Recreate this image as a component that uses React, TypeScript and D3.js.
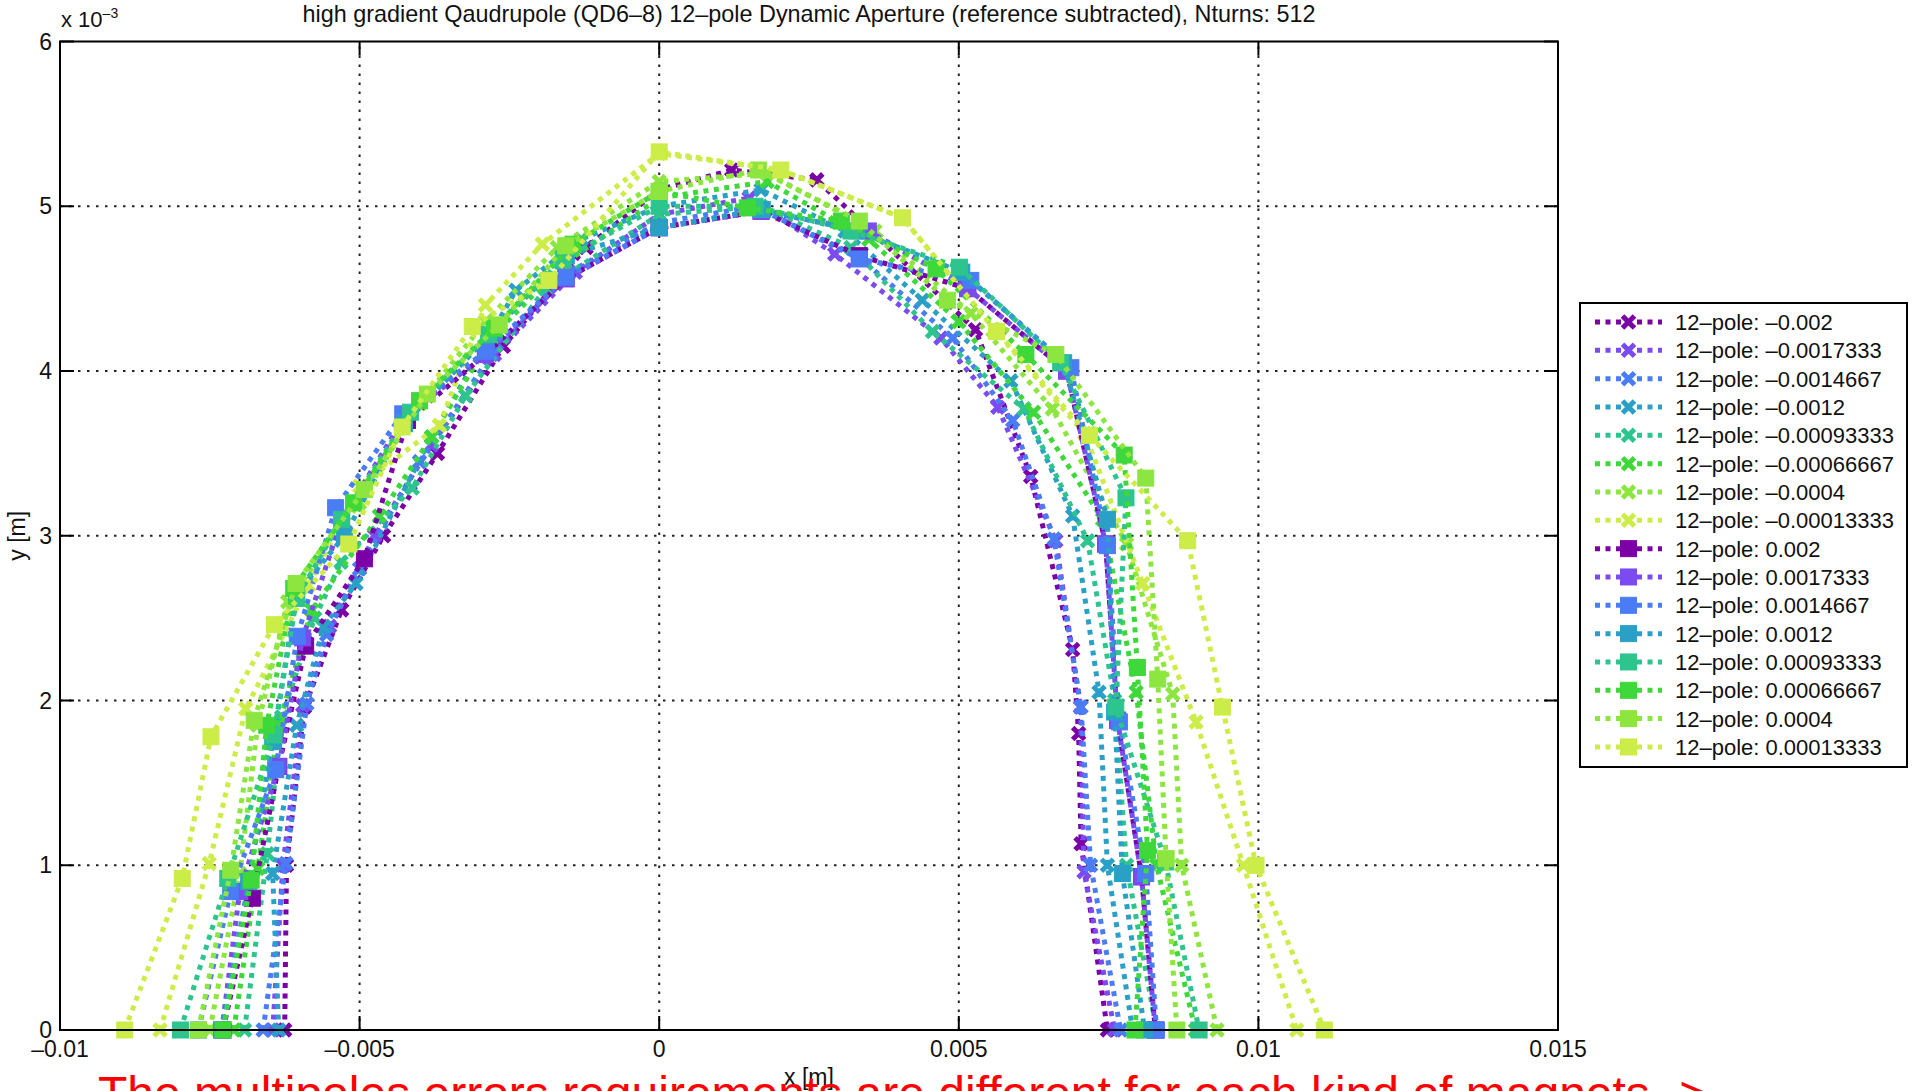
import React from "react";
import * as d3 from "d3";

// axis ticks (data units: 1e-3 m)
const xTicks = [-10, -5, 0, 5, 10, 15];
const xTickLabels = ["–0.01", "–0.005", "0", "0.005", "0.01", "0.015"];
const yTicks = [0, 1, 2, 3, 4, 5, 6];
const yTickLabels = ["0", "1", "2", "3", "4", "5", "6"];

const palette = ["#7b00a6", "#7b4bf0", "#4a7cf6", "#2aa0c6", "#2dc48e", "#3ed83a", "#8de640", "#ccec48"];

// dynamic aperture points [x, y] in 1e-3 m, 17 angles per scan
const neg2000 = [[-6.25, 0], [-6.22, 1.0], [-5.92, 1.96], [-5.3, 2.55], [-4.6, 3.0], [-3.7, 3.5], [-2.6, 4.15], [-1.22, 4.75], [0, 5.1], [1.21, 5.22], [2.63, 5.16], [5.28, 4.25], [6.2, 3.36], [6.9, 2.31], [7.0, 1.8], [7.04, 1.13], [7.48, 0]];
const neg1733 = [[-6.45, 0], [-6.28, 1.0], [-5.95, 1.97], [-5.5, 2.45], [-4.75, 3.0], [-3.8, 3.55], [-2.75, 4.1], [-1.4, 4.6], [0, 4.95], [1.5, 5.05], [2.93, 4.71], [4.7, 4.2], [5.65, 3.78], [6.62, 2.97], [7.03, 1.96], [7.09, 0.96], [7.6, 0]];
const neg1467 = [[-6.61, 0], [-6.23, 1.01], [-5.88, 1.98], [-5.55, 2.4], [-5.0, 2.8], [-4.0, 3.45], [-2.8, 4.1], [-1.5, 4.6], [0, 4.9], [1.6, 5.0], [3.34, 4.69], [4.9, 4.2], [5.9, 3.7], [6.59, 2.98], [7.04, 1.96], [7.2, 1.0], [7.7, 0]];
const neg1200 = [[-6.35, 0], [-6.45, 0.95], [-6.05, 1.85], [-5.6, 2.45], [-5.06, 2.71], [-3.8, 3.6], [-2.39, 4.49], [-1.3, 4.8], [0, 5.0], [1.7, 5.1], [3.1, 4.85], [4.39, 4.43], [5.87, 3.94], [6.9, 3.12], [7.34, 2.05], [7.48, 1.0], [7.9, 0]];
const neg0933 = [[-6.92, 0], [-6.54, 1.07], [-6.3, 1.9], [-5.75, 2.5], [-5.31, 2.84], [-4.12, 3.29], [-3.23, 3.85], [-1.9, 4.5], [0, 4.95], [1.7, 5.0], [3.2, 4.75], [4.56, 4.24], [6.09, 3.77], [7.15, 2.97], [7.6, 2.0], [7.8, 1.0], [8.3, 0]];
const neg0667 = [[-7.1, 0], [-6.7, 0.98], [-6.35, 1.85], [-5.8, 2.55], [-4.67, 3.12], [-3.8, 3.6], [-2.8, 4.2], [-1.6, 4.65], [0, 5.05], [1.8, 5.15], [3.5, 4.8], [5.0, 4.3], [6.25, 3.75], [7.4, 3.1], [7.96, 2.05], [8.3, 1.0], [8.95, 0]];
const neg0400 = [[-7.5, 0], [-7.0, 0.95], [-6.7, 1.85], [-6.2, 2.6], [-5.0, 3.2], [-4.0, 3.8], [-2.9, 4.3], [-1.7, 4.75], [0, 5.15], [1.8, 5.2], [3.6, 4.85], [5.2, 4.35], [6.56, 3.77], [7.8, 2.95], [8.57, 2.04], [8.72, 1.0], [9.31, 0]];
const neg0133 = [[-8.33, 0], [-7.51, 1.01], [-6.9, 1.95], [-5.85, 2.7], [-5.0, 3.3], [-3.67, 3.67], [-2.9, 4.4], [-1.95, 4.77], [0, 5.32], [2.03, 5.22], [4.06, 4.93], [5.6, 4.25], [7.1, 3.62], [8.07, 2.71], [8.96, 1.87], [9.75, 1.0], [10.64, 0]];
const pos2000 = [[-7.28, 0], [-6.79, 0.8], [-6.35, 1.6], [-5.9, 2.33], [-4.92, 2.86], [-4.2, 3.7], [-2.9, 4.1], [-1.56, 4.56], [0, 4.87], [1.7, 4.97], [3.34, 4.7], [5.15, 4.5], [6.8, 4.0], [7.45, 2.95], [7.65, 1.88], [8.05, 0.93], [8.28, 0]];
const pos1733 = [[-7.3, 0], [-7.0, 0.84], [-6.35, 1.6], [-5.95, 2.38], [-5.3, 3.1], [-4.25, 3.72], [-2.9, 4.1], [-1.55, 4.56], [0, 4.87], [1.7, 4.97], [3.49, 4.85], [5.15, 4.5], [6.8, 4.0], [7.45, 2.95], [7.65, 1.88], [8.05, 0.93], [8.28, 0]];
const pos1467 = [[-7.69, 0], [-7.15, 0.84], [-6.4, 1.58], [-6.04, 2.39], [-5.4, 3.17], [-4.28, 3.74], [-2.89, 4.12], [-1.56, 4.57], [0, 4.87], [1.7, 4.98], [3.34, 4.68], [5.2, 4.55], [6.87, 4.02], [7.48, 2.94], [7.68, 1.87], [8.12, 0.95], [8.3, 0]];
const pos1200 = [[-7.3, 0], [-6.85, 0.9], [-6.45, 1.75], [-6.05, 2.65], [-5.25, 3.0], [-4.25, 3.68], [-2.75, 4.25], [-1.55, 4.7], [0, 4.87], [1.72, 4.98], [3.3, 4.85], [5.05, 4.6], [6.75, 4.05], [7.48, 3.1], [7.6, 1.93], [7.73, 0.95], [8.1, 0]];
const pos0933 = [[-7.99, 0], [-7.2, 0.92], [-6.43, 1.79], [-6.05, 2.62], [-5.3, 3.1], [-4.15, 3.75], [-2.85, 4.22], [-1.6, 4.68], [0, 5.0], [1.6, 5.0], [3.2, 4.85], [5.01, 4.63], [6.7, 4.05], [7.79, 3.23], [7.62, 1.96], [8.45, 1.02], [9.01, 0]];
const pos0667 = [[-7.28, 0], [-6.81, 0.91], [-6.55, 1.85], [-6.1, 2.68], [-5.1, 3.2], [-4.0, 3.82], [-2.75, 4.26], [-1.44, 4.77], [0, 5.09], [1.47, 4.99], [3.04, 4.91], [4.62, 4.62], [6.12, 4.1], [7.76, 3.49], [7.98, 2.2], [8.15, 1.09], [7.94, 0]];
const pos0400 = [[-7.69, 0], [-7.15, 0.97], [-6.76, 1.88], [-6.06, 2.71], [-4.92, 3.28], [-3.87, 3.86], [-2.67, 4.28], [-1.56, 4.76], [0, 5.09], [1.66, 5.22], [3.34, 4.91], [4.81, 4.43], [6.62, 4.1], [8.12, 3.35], [8.32, 2.13], [8.46, 1.04], [8.64, 0]];
const pos0133 = [[-8.92, 0], [-7.96, 0.92], [-7.48, 1.78], [-6.42, 2.46], [-5.18, 2.95], [-4.29, 3.66], [-3.12, 4.27], [-1.84, 4.55], [0, 5.33], [2.03, 5.22], [4.06, 4.93], [5.63, 4.24], [7.18, 3.61], [8.82, 2.97], [9.4, 1.96], [9.96, 1.0], [11.1, 0]];

const labels = [
  "12–pole: –0.002", "12–pole: –0.0017333", "12–pole: –0.0014667", "12–pole: –0.0012",
  "12–pole: –0.00093333", "12–pole: –0.00066667", "12–pole: –0.0004", "12–pole: –0.00013333",
  "12–pole: 0.002", "12–pole: 0.0017333", "12–pole: 0.0014667", "12–pole: 0.0012",
  "12–pole: 0.00093333", "12–pole: 0.00066667", "12–pole: 0.0004", "12–pole: 0.00013333",
];
const scans = [neg2000, neg1733, neg1467, neg1200, neg0933, neg0667, neg0400, neg0133,
  pos2000, pos1733, pos1467, pos1200, pos0933, pos0667, pos0400, pos0133];

const series = scans.map((pts, i) => ({
  label: labels[i],
  pts,
  color: palette[i % 8],
  marker: i < 8 ? "x" : "square",
}));

const W = 1913, H = 1091;
const margin = { left: 60, right: 355, top: 41.5, bottom: 61 };
const font = "'Liberation Sans', Arial, Helvetica, sans-serif";

const Marker = ({ type, cx, cy, color }) => {
  if (type === "square") {
    const s = 16;
    return <rect x={cx - s / 2} y={cy - s / 2} width={s} height={s} fill={color} stroke={color} strokeWidth={1} />;
  }
  const r = 6;
  return (
    <path d={`M${cx - r},${cy - r}L${cx + r},${cy + r}M${cx - r},${cy + r}L${cx + r},${cy - r}`}
      stroke={color} strokeWidth={5} fill="none" />
  );
};

export default function App() {
  const x = d3.scaleLinear().domain([-10, 15]).range([margin.left, W - margin.right]);
  const y = d3.scaleLinear().domain([0, 6]).range([H - margin.bottom, margin.top]);
  const line = d3.line().x((d) => x(d[0])).y((d) => y(d[1]));
  const [x0, x1] = x.range();
  const [y0, y1] = y.range();

  const legX = 1580, legY = 303, legW = 327, legH = 464;
  const rowH = 28.33;

  return (
    <svg width={W} height={H} style={{ position: "absolute", left: 0, top: 0, background: "#fff" }}
      fontFamily={font}>
      <rect x={0} y={0} width={W} height={H} fill="#fff" />

      {/* grid */}
      {xTicks.slice(1, -1).map((t) => (
        <line key={"gx" + t} x1={x(t)} x2={x(t)} y1={y0} y2={y1} stroke="#222" strokeWidth={2} strokeDasharray="2.5,6.5" />
      ))}
      {yTicks.slice(1, -1).map((t) => (
        <line key={"gy" + t} x1={x0} x2={x1} y1={y(t)} y2={y(t)} stroke="#222" strokeWidth={2} strokeDasharray="2.5,6.5" />
      ))}

      {/* series */}
      {series.map((s, i) => (
        <g key={"s" + i}>
          <path d={line(s.pts)} fill="none" stroke={s.color} strokeWidth={5} strokeDasharray="5,5.5" />
          {s.pts.map((p, j) => (
            <Marker key={j} type={s.marker} cx={x(p[0])} cy={y(p[1])} color={s.color} />
          ))}
        </g>
      ))}

      {/* axes box and ticks */}
      <rect x={x0} y={y1} width={x1 - x0} height={y0 - y1} fill="none" stroke="#000" strokeWidth={2} />
      {xTicks.map((t) => (
        <g key={"tx" + t}>
          <line x1={x(t)} x2={x(t)} y1={y0} y2={y0 - 14} stroke="#000" strokeWidth={2} />
          <line x1={x(t)} x2={x(t)} y1={y1} y2={y1 + 14} stroke="#000" strokeWidth={2} />
        </g>
      ))}
      {yTicks.map((t) => (
        <g key={"ty" + t}>
          <line x1={x0} x2={x0 + 14} y1={y(t)} y2={y(t)} stroke="#000" strokeWidth={2} />
          <line x1={x1} x2={x1 - 14} y1={y(t)} y2={y(t)} stroke="#000" strokeWidth={2} />
        </g>
      ))}
      {xTicks.map((t, i) => (
        <text key={"lx" + t} x={x(t)} y={1057} fontSize={23} textAnchor="middle" fill="#111">{xTickLabels[i]}</text>
      ))}
      {yTicks.map((t, i) => (
        <text key={"ly" + t} x={52} y={y(t) + 8} fontSize={23} textAnchor="end" fill="#111">{yTickLabels[i]}</text>
      ))}
      <text x={61} y={27} fontSize={22} fill="#111">
        x 10<tspan dy={-9} fontSize={14}>–3</tspan>
      </text>

      {/* title and axis labels */}
      <text x={(x0 + x1) / 2} y={22} fontSize={23.4} textAnchor="middle" fill="#111">
        high gradient Qaudrupole (QD6–8) 12–pole Dynamic Aperture (reference subtracted), Nturns: 512
      </text>
      <text x={(x0 + x1) / 2} y={1085} fontSize={23} textAnchor="middle" fill="#111">x [m]</text>
      <text transform={`translate(25,${(y0 + y1) / 2}) rotate(-90)`} fontSize={23} textAnchor="middle" fill="#111">y [m]</text>

      {/* legend */}
      <rect x={legX} y={legY} width={legW} height={legH} fill="#fff" stroke="#000" strokeWidth={2} />
      {series.map((s, i) => {
        const cy = legY + 19 + i * rowH;
        return (
          <g key={"lg" + i}>
            <line x1={1595} x2={1662} y1={cy} y2={cy} stroke={s.color} strokeWidth={5} strokeDasharray="5,5.5" />
            <Marker type={s.marker} cx={1628.5} cy={cy} color={s.color} />
            <text x={1675} y={cy + 8} fontSize={22} fill="#111">{s.label}</text>
          </g>
        );
      })}

      {/* annotation */}
      <text x={98} y={1110} fontSize={48} fill="#ff0000">
        The multipoles errors requirements are different for each kind of magnets -&gt;
      </text>
    </svg>
  );
}
